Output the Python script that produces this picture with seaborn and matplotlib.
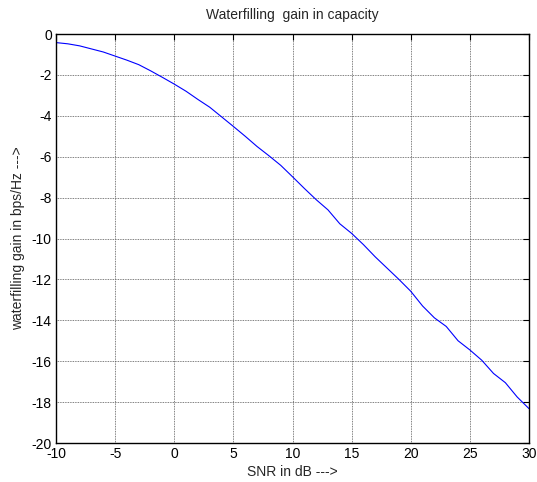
import matplotlib
matplotlib.use("Agg")
import matplotlib.pyplot as plt
import seaborn as sns
import pandas as pd

snr_db = list(range(-10, 31))
gain = [-0.42, -0.48, -0.58, -0.73, -0.88, -1.08, -1.28, -1.50, -1.80, -2.12,
        -2.45, -2.80, -3.20, -3.58, -4.05, -4.52, -5.00, -5.50, -5.95, -6.42,
        -6.98, -7.55, -8.10, -8.60, -9.28, -9.75, -10.30, -10.90, -11.45, -12.00,
        -12.58, -13.30, -13.88, -14.30, -15.00, -15.45, -15.95, -16.60, -17.05, -17.75,
        -18.32]
x_ticks = [-10, -5, 0, 5, 10, 15, 20, 25, 30]
y_ticks = [0, -2, -4, -6, -8, -10, -12, -14, -16, -18, -20]

sns.set_theme(style="white")
plt.rcParams['font.family'] = ['Liberation Sans', 'DejaVu Sans']
plt.rcParams['axes.unicode_minus'] = False

df = pd.DataFrame({"snr": snr_db, "gain": gain})

fig = plt.figure(figsize=(5.37, 4.82), dpi=100)
ax = fig.add_axes([56 / 537, 1 - 443 / 482, 473 / 537, 409 / 482])
sns.lineplot(data=df, x="snr", y="gain", ax=ax, color="#0000ff", linewidth=0.8)

ax.set_xlim(-10, 30)
ax.set_ylim(-20, 0)
ax.set_xticks(x_ticks)
ax.set_yticks(y_ticks)
ax.tick_params(direction="in", top=True, right=True, length=4, width=0.8,
               labelsize=10, colors="black", pad=3)
ax.grid(True, color="#555555", linestyle=(0, (1, 1)), linewidth=0.6)
for s in ax.spines.values():
    s.set_color("black")
    s.set_linewidth(1.0)

ax.set_title("Waterfilling  gain in capacity", fontsize=10, pad=10.5)
ax.set_xlabel("SNR in dB --->", fontsize=10, labelpad=3)
ax.set_ylabel("waterfilling gain in bps/Hz --->", fontsize=10, labelpad=5)

fig.savefig("out.png", dpi=100, facecolor="white")
